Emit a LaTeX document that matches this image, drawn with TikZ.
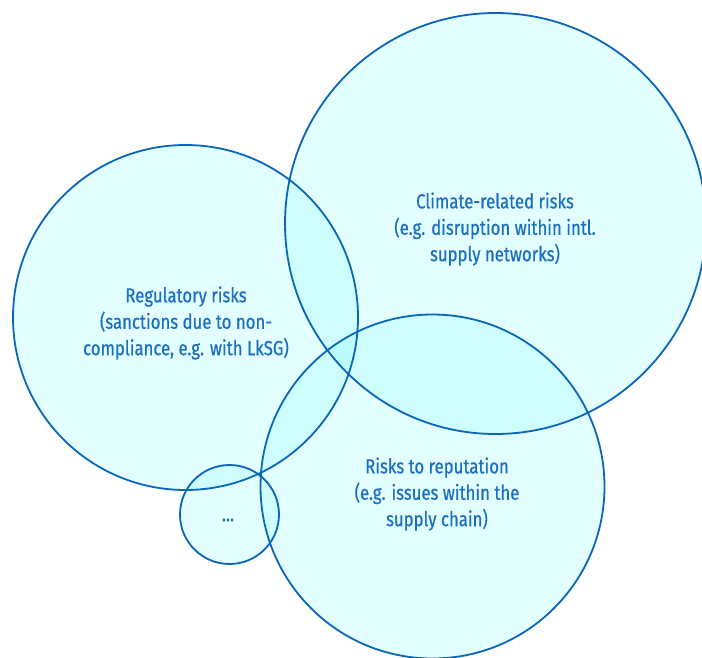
\documentclass[tikz,border=0pt]{standalone}
\usepackage{fontspec}
\setmainfont[FakeStretch=0.82,FakeBold=0.6]{Fira Sans}
\definecolor{edge}{HTML}{0A66B8}
\definecolor{txt}{HTML}{1B6EC2}
\definecolor{bub}{RGB}{150,250,250}
\begin{document}
\begin{tikzpicture}[x=1bp,y=-1bp,
  bubblefill/.style={fill=bub,fill opacity=0.28},
  bubbleedge/.style={draw=edge,line width=1.8bp},
  label/.style={text=txt,align=center,font=\fontsize{20.5}{26.5}\selectfont,inner sep=0pt}]
\useasboundingbox (0,0) rectangle (702,658);
\begin{scope}
\clip (0,0) rectangle (702,658);
\path[bubblefill] (185.5,317.5) circle[radius=172.5];
\path[bubblefill] (495.5,223.5) circle[radius=210.5];
\path[bubblefill] (432.5,486.5) circle[radius=172];
\path[bubblefill] (229.5,514.5) circle[radius=49.5];
\path[bubbleedge] (185.5,317.5) circle[radius=172.5];
\path[bubbleedge] (495.5,223.5) circle[radius=210.5];
\path[bubbleedge] (432.5,486.5) circle[radius=172];
\path[bubbleedge] (229.5,514.5) circle[radius=49.5];
\end{scope}
\node[label] (climate) at (495,229) {Climate-related risks\\(e.g. disruption within intl.\\supply networks)};
\node[label] (reg) at (186,323) {Regulatory risks\\(sanctions due to non-\\compliance, e.g. with LkSG)};
\node[label] (rep) at (437,494) {Risks to reputation\\(e.g. issues within the\\supply chain)};
\node[label] (more) at (228,520) {...};
\end{tikzpicture}
\end{document}
